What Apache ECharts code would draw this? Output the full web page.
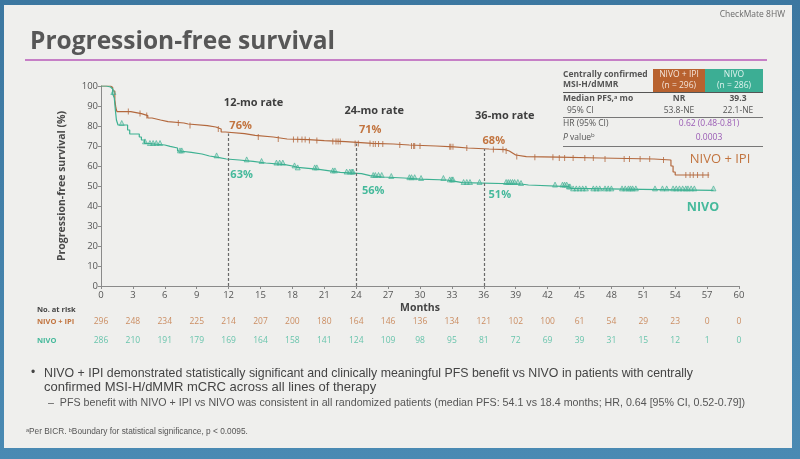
<!DOCTYPE html>
<html><head><meta charset="utf-8">
<script src="https://cdn.jsdelivr.net/npm/echarts@6/dist/echarts.min.js"></script>
<style>html,body{margin:0;padding:0;background:#efefed}#c{width:800px;height:459px}</style>
</head><body><div id="c"></div>
<script>
// ---------- data ----------
const monthTicks = [0,3,6,9,12,15,18,21,24,27,30,33,36,39,42,45,48,51,54,57,60];
const survivalTicks = [0,10,20,30,40,50,60,70,80,90,100];

// KM step curves: [month, PFS %]
const nivoIpiCurve = [[0,100],[0.9,99.3],[1.1,97.5],[1.3,93],[1.4,89],[1.5,87.2],[2.8,86.2],[3.8,85.2],[4.4,84],[4.8,83],[5.6,82.2],[6.3,81.5],[7.8,81],[8.2,80.2],[10.0,79.5],[10.8,78.5],[11.3,77],[11.7,76.2],[13.5,75.3],[14.5,74.5],[16.2,73.5],[17.5,73.2],[19.5,72.7],[21.0,72.2],[23.0,71.3],[25.5,71],[27.5,70.5],[29.0,70],[31.5,69.6],[33.2,69],[34.5,68.5],[36.5,68.2],[38.0,67.5],[38.4,66.5],[38.7,65.5],[39.0,64.7],[40.0,64.4],[43.0,64],[47,63.5],[52,63],[53.6,60],[53.8,57],[54.0,55.5],[57.2,55.5]];
const nivoCurve = [[0,100],[0.5,99.5],[0.9,98.5],[1.1,96],[1.25,94],[1.35,88],[1.45,83],[1.6,80.5],[2.5,78],[2.7,76],[3.6,74.5],[3.8,73],[4.1,71.3],[4.3,70.5],[6.0,69.8],[6.5,69],[7.2,67.5],[7.4,66.8],[8.5,66],[9.5,65],[10.2,64.3],[11.0,63.5],[11.8,63],[13.0,62.3],[14.3,61.5],[15.5,60.7],[17.3,60],[18.0,59.3],[18.5,58.3],[20.5,57.6],[21.5,56.8],[22.5,56.2],[24.5,55.2],[25.3,54.5],[26.5,54],[28.5,53.4],[30.0,53],[32.5,52.3],[33.3,51.7],[34.0,51],[39.5,50.5],[40.2,49.7],[44.0,48.8],[44.2,47.8],[57.6,47.8]];

// censoring times (months)
const nivoIpiCensor = [2.57,3.67,4.3,7.27,8.37,11.03,14.79,16.67,18.1,18.5,18.9,19.2,19.6,20.3,21.8,22.1,22.3,22.5,23.9,24.2,25.3,25.6,25.8,26.1,26.5,28.1,29.2,29.4,29.5,30.0,32.8,32.9,33.1,34.4,36.9,37.8,38.1,39.1,40.8,42.5,43.1,43.6,44.4,45.5,46.3,47.4,49.2,49.7,50.7,51.6,52.9,55.0,55.4,55.7,56.1,56.6,57.1];
const nivoCensor = [1.16,1.95,4.14,4.6,4.9,5.2,5.55,7.43,7.6,10.87,13.7,15.1,16.5,16.8,17.1,18.2,18.5,20.1,20.3,21.8,22.0,23.1,23.4,23.6,23.7,25.6,25.8,26.1,26.4,27.3,29.0,29.2,29.5,30.1,32.2,32.8,33.0,33.1,34.1,34.4,34.7,35.6,38.1,38.3,38.5,38.7,38.9,39.2,39.5,42.7,43.4,43.6,43.8,44.0,44.1,44.4,44.7,45.0,45.3,45.6,46.3,46.6,46.9,47.4,47.7,48.0,49.0,49.3,49.6,49.8,50.0,50.3,52.1,52.8,53.2,53.8,54.1,54.4,54.7,55.0,55.2,55.5,55.8,57.6];

const atRiskNivoIpi = [296,248,234,225,214,207,200,180,164,146,136,134,121,102,100,61,54,29,23,0,0];
const atRiskNivo    = [286,210,191,179,169,164,158,141,124,109,98,95,81,72,69,39,31,15,12,1,0];

const rateMonths = [12,24,36];
const rateNivoIpi = [76,71,68];
const rateNivo = [63,56,51];

// ---------- styles ----------
const ORANGE = '#b3683d', ORANGE_T = '#c2743f';
const TEAL = '#3db192', TEAL_T = '#45b99b';
const PURPLE = '#9a5bb5';
const FONT = "'Open Sans','Noto Sans','DejaVu Sans',sans-serif";
const NARROW = "'Liberation Sans',sans-serif";

function stepVal(curve, t){ let v = curve[0][1]; for (const p of curve){ if (p[0] <= t) v = p[1]; else break; } return v; }

const chart = echarts.init(document.getElementById('c'), null, {renderer:'canvas'});

const xBase = {type:'value', min:0, max:60, interval:3};
const option = {
  animation:false,
  backgroundColor:'transparent',
  grid:[
    {left:101, right:61, top:86, bottom:173},
    {left:101, right:61, top:317, height:10},
    {left:101, right:61, top:336, height:10}
  ],
  xAxis:[
    Object.assign({}, xBase, {gridIndex:0, name:'Months', nameLocation:'middle', nameGap:17,
      nameTextStyle:{fontFamily:FONT, fontWeight:'bold', fontSize:10.5, color:'#444'},
      axisLine:{lineStyle:{color:'#8a8a8a', width:1}}, axisTick:{length:3, lineStyle:{color:'#8a8a8a'}},
      axisLabel:{fontFamily:FONT, fontSize:9.5, color:'#555', margin:4, formatter:v=>monthTicks.includes(v)?String(v):''},
      splitLine:{show:false}}),
    Object.assign({}, xBase, {gridIndex:1, show:false}),
    Object.assign({}, xBase, {gridIndex:2, show:false})
  ],
  yAxis:[
    {type:'value', gridIndex:0, min:0, max:100, interval:10,
      name:'Progression-free survival (%)', nameLocation:'middle', nameGap:33, nameRotate:90,
      nameTextStyle:{fontFamily:FONT, fontWeight:'bold', fontSize:10.5, color:'#4a4a4a'},
      axisLine:{show:true, lineStyle:{color:'#8a8a8a'}}, axisTick:{show:true, length:3, lineStyle:{color:'#8a8a8a'}},
      axisLabel:{fontFamily:FONT, fontSize:9.5, color:'#555', margin:3, formatter:v=>survivalTicks.includes(v)?String(v):''},
      splitLine:{show:false}},
    {type:'value', gridIndex:1, min:0, max:1, show:false},
    {type:'value', gridIndex:2, min:0, max:1, show:false}
  ],
  series:[
    {type:'line', name:'NIVO + IPI', data:nivoIpiCurve, step:'end', showSymbol:false, z:3,
      lineStyle:{color:ORANGE, width:1.2},
      markLine:{silent:true, symbol:'none', label:{show:false},
        lineStyle:{color:'#6a6a6a', type:[3,2], width:1.2},
        data: rateMonths.map(m=>[{coord:[m,0]},{coord:[m,stepVal(nivoIpiCurve,m)]}])}},
    {type:'line', name:'NIVO', data:nivoCurve, step:'end', showSymbol:false, z:3,
      lineStyle:{color:TEAL, width:1.2}},
    {type:'scatter', data:nivoIpiCensor.map(t=>[t, stepVal(nivoIpiCurve,t)]), symbol:'rect', symbolSize:[1,6], z:4,
      itemStyle:{color:ORANGE}},
    {type:'scatter', data:nivoCensor.map(t=>[t, stepVal(nivoCurve,t)+1]), symbol:'triangle', symbolSize:5, z:4,
      itemStyle:{color:'rgba(61,177,146,0.35)', borderColor:TEAL, borderWidth:0.8}},
    {type:'scatter', xAxisIndex:1, yAxisIndex:1, symbolSize:0, data:monthTicks.map((m,i)=>[m,0.5,atRiskNivoIpi[i]]),
      label:{show:true, position:'inside', formatter:p=>String(p.data[2]), fontFamily:FONT, fontSize:8.5, color:ORANGE_T}},
    {type:'scatter', xAxisIndex:2, yAxisIndex:2, symbolSize:0, data:monthTicks.map((m,i)=>[m,0.5,atRiskNivo[i]]),
      label:{show:true, position:'inside', formatter:p=>String(p.data[2]), fontFamily:FONT, fontSize:8.5, color:TEAL_T}}
  ]
};
chart.setOption(option);

// ---------- annotations ----------
const px = (m,v)=>chart.convertToPixel({gridIndex:0},[m,v]);
const g = [];
// frame
g.push({type:'rect', z:-10, shape:{x:0,y:0,width:800,height:459},
  style:{fill:new echarts.graphic.LinearGradient(0,0,0,1,[{offset:0,color:'#3c77a0'},{offset:1,color:'#4a8ab3'}])}});
g.push({type:'rect', z:-9, shape:{x:4,y:5,width:788,height:443}, style:{fill:'#efefed'}});
// title
g.push({type:'text', x:30, y:42, style:{text:'Progression-free survival', font:"bold 24.5px "+FONT, fill:'#575757', textVerticalAlign:'middle'}});
g.push({type:'line', shape:{x1:25,y1:60,x2:767,y2:60}, style:{stroke:'#c67fc6', lineWidth:2}});
g.push({type:'text', x:785, y:15, style:{text:'CheckMate 8HW', font:"8.5px "+FONT, fill:'#6a6a6a', textAlign:'right', textVerticalAlign:'middle'}});
// table
g.push({type:'rect', shape:{x:653,y:69,width:52,height:23}, style:{fill:'#b8622f'}});
g.push({type:'rect', shape:{x:705,y:69,width:58,height:23}, style:{fill:'#3cae94'}});
const tl = (x,y,t,opt)=>g.push({type:'text', x, y, style:Object.assign({text:t, font:"8.5px "+FONT, fill:'#555', textVerticalAlign:'middle'}, opt||{})});
tl(563,75,'Centrally confirmed',{font:"bold 8.5px "+FONT});
tl(563,85,'MSI-H/dMMR',{font:"bold 8.5px "+FONT});
tl(679,75,'NIVO + IPI',{textAlign:'center', fill:'#f3e3d8', font:"8.5px "+FONT});
tl(679,86,'(n = 296)',{textAlign:'center', fill:'#f3e3d8', font:"8.5px "+FONT});
tl(734,75,'NIVO',{textAlign:'center', fill:'#dff3ee', font:"8.5px "+FONT});
tl(734,86,'(n = 286)',{textAlign:'center', fill:'#dff3ee', font:"8.5px "+FONT});
g.push({type:'line', shape:{x1:563,y1:92.5,x2:763,y2:92.5}, style:{stroke:'#555', lineWidth:1}});
tl(563,99,'Median PFS,\u1d43 mo',{font:"bold 8.5px "+FONT});
tl(679,99,'NR',{textAlign:'center', font:"bold 8.5px "+FONT});
tl(738,99,'39.3',{textAlign:'center', font:"bold 8.5px "+FONT});
tl(567,111,'95% CI');
tl(679,111,'53.8-NE',{textAlign:'center'});
tl(738,111,'22.1-NE',{textAlign:'center'});
g.push({type:'line', shape:{x1:563,y1:117.5,x2:763,y2:117.5}, style:{stroke:'#777', lineWidth:1}});
tl(563,124,'HR (95% CI)');
tl(709,124,'0.62 (0.48-0.81)',{textAlign:'center', fill:PURPLE});
g.push({type:'text', x:563, y:138, style:{text:'{i|P} value{s|b}', textVerticalAlign:'middle',
  rich:{i:{font:"italic 8.5px "+FONT, fill:'#555'}, s:{font:"6px "+FONT, fill:'#555', padding:[0,0,5,0]}}, font:"8.5px "+FONT, fill:'#555'}});
tl(709,138,'0.0003',{textAlign:'center', fill:PURPLE});
g.push({type:'line', shape:{x1:563,y1:146.5,x2:763,y2:146.5}, style:{stroke:'#777', lineWidth:1}});
// rate labels
const rateHeadY = [103,111,116], rateHeadDx = [25,18,21];
const rateTopDx = [12,14,10], rateTopY = [126,130,141];
const rateBotDx = [13,17,16], rateBotY = [175,191,195];
rateMonths.forEach((m,i)=>{
  const x = px(m,0)[0];
  g.push({type:'text', x:x+rateHeadDx[i], y:rateHeadY[i], style:{text:m+'-mo rate', font:"bold 11px "+FONT, fill:'#3e3e3e', textAlign:'center', textVerticalAlign:'middle'}});
  g.push({type:'text', x:x+rateTopDx[i], y:rateTopY[i], style:{text:rateNivoIpi[i]+'%', font:"bold 11px "+FONT, fill:ORANGE_T, textAlign:'center', textVerticalAlign:'middle'}});
  g.push({type:'text', x:x+rateBotDx[i], y:rateBotY[i], style:{text:rateNivo[i]+'%', font:"bold 11px "+FONT, fill:TEAL_T, textAlign:'center', textVerticalAlign:'middle'}});
});
// curve names
g.push({type:'text', x:720, y:159, style:{text:'NIVO + IPI', font:"13px "+FONT, fill:ORANGE_T, textAlign:'center', textVerticalAlign:'middle'}});
g.push({type:'text', x:703, y:207, style:{text:'NIVO', font:"bold 12.5px "+FONT, fill:TEAL_T, textAlign:'center', textVerticalAlign:'middle'}});
// at risk
g.push({type:'text', x:37, y:310, style:{text:'No. at risk', font:"bold 7.5px "+FONT, fill:'#444', textVerticalAlign:'middle'}});
g.push({type:'text', x:37, y:322, style:{text:'NIVO + IPI', font:"bold 7.5px "+FONT, fill:ORANGE_T, textVerticalAlign:'middle'}});
g.push({type:'text', x:37, y:341, style:{text:'NIVO', font:"bold 7.5px "+FONT, fill:TEAL_T, textVerticalAlign:'middle'}});
// bullets
g.push({type:'text', x:31, y:373, style:{text:'\u2022', font:"12px "+NARROW, fill:'#444', textVerticalAlign:'middle'}});
g.push({type:'text', x:44, y:373, scaleX:0.95, style:{text:'NIVO + IPI demonstrated statistically significant and clinically meaningful PFS benefit vs NIVO in patients with centrally', font:"13px "+NARROW, fill:'#444', textVerticalAlign:'middle'}});
g.push({type:'text', x:44, y:387, style:{text:'confirmed MSI-H/dMMR mCRC across all lines of therapy', font:"13px "+NARROW, fill:'#444', textVerticalAlign:'middle'}});
g.push({type:'text', x:48, y:403, scaleX:0.97, style:{text:'\u2013  PFS benefit with NIVO + IPI vs NIVO was consistent in all randomized patients (median PFS: 54.1 vs 18.4 months; HR, 0.64 [95% CI, 0.52-0.79])', font:"11px "+NARROW, fill:'#555', textVerticalAlign:'middle'}});
g.push({type:'text', x:26, y:432, style:{text:'\u1d43Per BICR. \u1d47Boundary for statistical significance, p < 0.0095.', font:"8.3px "+NARROW, fill:'#555', textVerticalAlign:'middle'}});

chart.setOption({graphic:{elements:g}});
</script></body></html>
